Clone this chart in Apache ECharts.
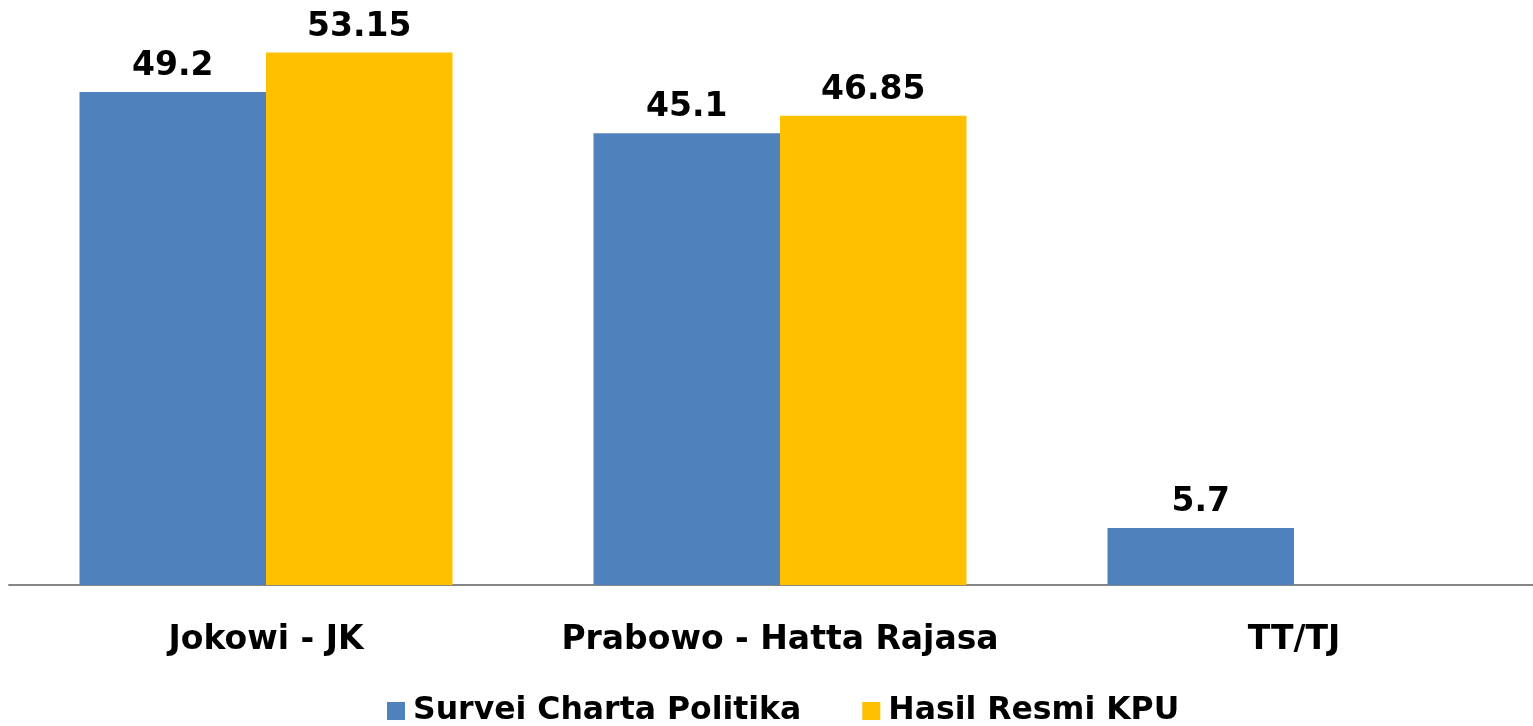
<!DOCTYPE html>
<html>
<head>
<meta charset="utf-8">
<script src="https://cdn.jsdelivr.net/npm/echarts@6/dist/echarts.min.js"></script>
<style>
html,body{margin:0;padding:0;background:#fff;overflow:hidden;width:1533px;height:726px;}
#chart{width:1551px;height:726px;}
</style>
</head>
<body>
<div id="chart"></div>
<script>
const categories = ['Jokowi - JK', 'Prabowo - Hatta Rajasa', 'TT/TJ'];
const seriesNames = ['Survei Charta Politika', 'Hasil Resmi KPU'];
const surveiValues = [49.2, 45.1, 5.7];
const kpuValues = [53.15, 46.85, null];

const chart = echarts.init(document.getElementById('chart'), null, {renderer: 'canvas'});
const font = 'DejaVu Sans';
chart.setOption({
  animation: false,
  backgroundColor: '#ffffff',
  grid: {left: 9, right: 0, top: 34, bottom: 141, containLabel: false},
  legend: {
    data: seriesNames,
    bottom: -6,
    left: 382,
    itemWidth: 18,
    itemHeight: 18,
    itemGap: 61,
    icon: 'rect',
    textStyle: {fontFamily: font, fontWeight: 'bold', fontSize: 31.5, color: '#000', padding: [0,0,0,3]}
  },
  xAxis: {
    type: 'category',
    data: categories,
    axisLine: {show: true, lineStyle: {color: '#868686', width: 2}},
    axisTick: {show: false},
    axisLabel: {interval: 0, fontFamily: font, fontWeight: 'bold', fontSize: 33, color: '#000', margin: 39}
  },
  yAxis: {
    type: 'value',
    min: 0, max: 55,
    show: false,
    splitLine: {show: false}
  },
  series: [
    {
      name: seriesNames[0], type: 'bar', data: surveiValues,
      barWidth: 186.5, barGap: '0%',
      itemStyle: {color: '#4F81BD'},
      label: {show: true, position: 'top', distance: 9, fontFamily: font, fontWeight: 'bold', fontSize: 33, color: '#000'}
    },
    {
      name: seriesNames[1], type: 'bar', data: kpuValues,
      barWidth: 186.5, barGap: '0%',
      itemStyle: {color: '#FFC000'},
      label: {show: true, position: 'top', distance: 9, fontFamily: font, fontWeight: 'bold', fontSize: 33, color: '#000'}
    }
  ]
});
</script>
</body>
</html>
